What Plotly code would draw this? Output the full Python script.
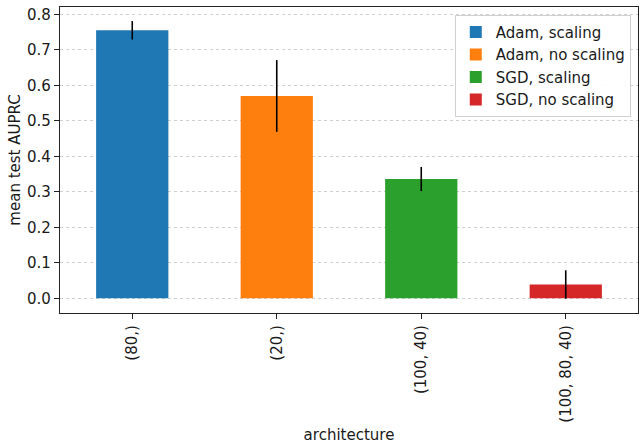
import plotly.graph_objects as go

# Mean test AUPRC per architecture, with standard deviation
architectures = ["(80,)", "(20,)", "(100, 40)", "(100, 80, 40)"]
series_names = ["Adam, scaling", "Adam, no scaling", "SGD, scaling", "SGD, no scaling"]
mean_auprc = [0.755, 0.570, 0.336, 0.039]
std_auprc = [0.026, 0.101, 0.034, 0.040]
colors = ["#1f77b4", "#ff7f0e", "#2ca02c", "#d62728"]

FONT = "DejaVu Sans"
fig = go.Figure()
for arch, name, m, s, c in zip(architectures, series_names, mean_auprc, std_auprc, colors):
    fig.add_trace(go.Bar(
        x=[arch], y=[m], name=name, width=0.5,
        marker=dict(color=c, line=dict(width=0)),
        error_y=dict(type="data", array=[s], visible=True, color="black",
                     thickness=1.6, width=0),
    ))

fig.update_layout(
    width=643, height=444,
    margin=dict(l=60, r=5, t=7, b=131),
    barmode="overlay",
    plot_bgcolor="white", paper_bgcolor="white",
    font=dict(family=FONT, size=15, color="#1a1a1a"),
    showlegend=True,
    legend=dict(
        x=0.683, y=0.975, xanchor="left", yanchor="top",
        bgcolor="rgba(255,255,255,0.9)", bordercolor="#d0d0d0", borderwidth=1,
        font=dict(family=FONT, size=15, color="#1a1a1a"),
        itemsizing="constant", tracegroupgap=0,
    ),
    xaxis=dict(
        type="category", categoryorder="array", categoryarray=architectures,
        range=[-0.5, 3.5], tickangle=-90, automargin=False,
        ticks="outside", ticklen=5, tickcolor="#222222",
        showline=True, linecolor="#222222", linewidth=1.2, mirror=True,
        showgrid=False,
        title=dict(text="architecture", standoff=8, font=dict(size=15)),
    ),
    yaxis=dict(
        range=[-0.0414, 0.8206], tickvals=[0, 0.1, 0.2, 0.3, 0.4, 0.5, 0.6, 0.7, 0.8],
        tickformat=".1f", automargin=False,
        ticks="outside", ticklen=5, tickcolor="#222222",
        showline=True, linecolor="#222222", linewidth=1.2, mirror=True,
        showgrid=True, gridcolor="#cfcfcf", griddash="dot", gridwidth=1,
        zeroline=False,
        title=dict(text="mean test AUPRC", standoff=2, font=dict(size=15)),
    ),
)

fig.write_html("out.html")
